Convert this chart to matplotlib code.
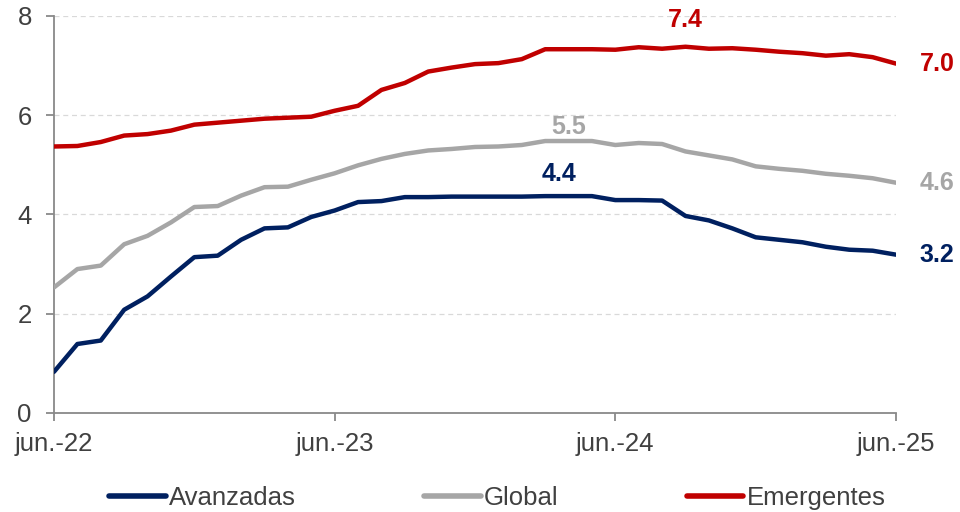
import matplotlib.pyplot as plt
import numpy as np
import pandas as pd

# meses jun-22 .. jun-25
meses = pd.date_range('2022-06-01', '2025-06-01', freq='MS')
etiquetas = ['jun.-22', 'jun.-23', 'jun.-24', 'jun.-25']

avanzadas = [0.83, 1.39, 1.46, 2.08, 2.35, 2.75, 3.14, 3.17, 3.49, 3.72, 3.74, 3.95,
             4.08, 4.25, 4.27, 4.35, 4.35, 4.36, 4.36, 4.36, 4.36, 4.37, 4.37, 4.37,
             4.29, 4.29, 4.28, 3.97, 3.88, 3.72, 3.54, 3.49, 3.44, 3.35, 3.29, 3.27, 3.19]
glob = [2.53, 2.90, 2.97, 3.40, 3.57, 3.84, 4.15, 4.17, 4.38, 4.55, 4.56, 4.70,
        4.83, 4.99, 5.12, 5.22, 5.29, 5.32, 5.36, 5.37, 5.40, 5.48, 5.48, 5.48,
        5.40, 5.44, 5.42, 5.27, 5.19, 5.11, 4.97, 4.92, 4.88, 4.82, 4.78, 4.73, 4.64]
emergentes = [5.37, 5.38, 5.46, 5.59, 5.62, 5.69, 5.81, 5.85, 5.89, 5.93, 5.95, 5.97,
              6.09, 6.19, 6.51, 6.65, 6.88, 6.96, 7.03, 7.05, 7.13, 7.33, 7.33, 7.33,
              7.32, 7.37, 7.34, 7.38, 7.34, 7.35, 7.32, 7.28, 7.25, 7.20, 7.23, 7.17, 7.04]

c_av = '#002060'
c_gl = '#A6A6A6'
c_em = '#C00000'
gris_txt = '#404040'

plt.rcParams['font.family'] = ['Liberation Sans', 'DejaVu Sans']

fig = plt.figure(figsize=(9.6, 5.12), dpi=100)
ax = fig.add_axes([0.05625, 0.1934, 0.8771, 0.7754])

x = np.arange(len(meses))
ax.plot(x, avanzadas, color=c_av, lw=3.2, solid_capstyle='round', label='Avanzadas', zorder=3)
ax.plot(x, glob, color=c_gl, lw=3.2, solid_capstyle='round', label='Global', zorder=3)
ax.plot(x, emergentes, color=c_em, lw=3.2, solid_capstyle='round', label='Emergentes', zorder=3)

ax.set_xlim(0, 36)
ax.set_ylim(0, 8)
ax.set_yticks([0, 2, 4, 6, 8])
ax.set_xticks([0, 12, 24, 36])
ax.set_xticklabels(etiquetas)

for v in [2, 4, 6, 8]:
    ax.axhline(v, color='#D9D9D9', lw=0.9, ls=(0, (4, 3)), zorder=1)

for s in ['top', 'right']:
    ax.spines[s].set_visible(False)
for s in ['left', 'bottom']:
    ax.spines[s].set_color('#898989')
    ax.spines[s].set_linewidth(1.3)
ax.tick_params(axis='both', colors='#898989', length=6, width=1.3, labelsize=18.5,
               labelcolor=gris_txt)
ax.tick_params(axis='y', pad=10)
ax.tick_params(axis='x', pad=8)

# etiquetas de valores
def etiqueta(serie, i, color, dx, dy, ha='center'):
    ax.annotate(f'{serie[i]:.1f}', (x[i], serie[i]), xytext=(dx, dy), textcoords='offset points',
                ha=ha, va='center', color=color, fontsize=18, fontweight='bold')

etiqueta(emergentes, 27, c_em, 0, 19.5)
etiqueta(glob, 22, c_gl, 0, 10)
etiqueta(avanzadas, 21, c_av, 10, 16)
etiqueta(emergentes, 36, c_em, 17, 0, ha='left')
etiqueta(glob, 36, c_gl, 17, 0, ha='left')
etiqueta(avanzadas, 36, c_av, 17, 0, ha='left')

leg = fig.legend(loc='center', bbox_to_anchor=(0.518, 0.028), ncol=3, frameon=False,
                 fontsize=18.5, handlelength=2.2, handletextpad=0.12, columnspacing=5.0)
for t in leg.get_texts():
    t.set_color(gris_txt)
for h in leg.get_lines():
    h.set_linewidth(4)
    h.set_solid_capstyle('round')

plt.savefig('out.png', dpi=100)
